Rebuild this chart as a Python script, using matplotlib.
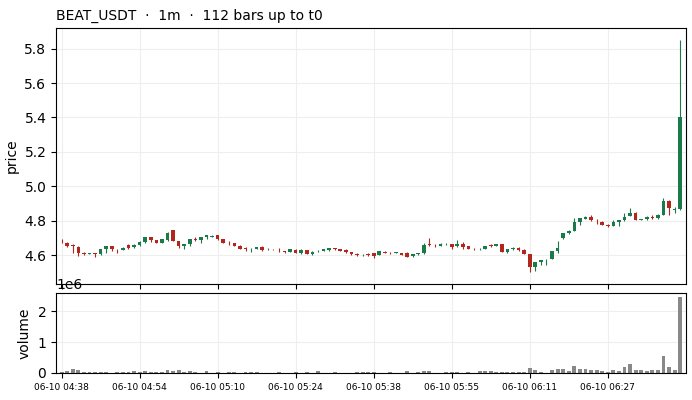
import numpy as np
import matplotlib
matplotlib.use('Agg')
import matplotlib.pyplot as plt

# ---- data (112 one-minute bars) ----
opens = [4.684, 4.673, 4.658, 4.650, 4.612, 4.609, 4.612, 4.606, 4.636, 4.652,
         4.636, 4.631, 4.657, 4.648, 4.658, 4.676, 4.703, 4.688, 4.671, 4.687,
         4.744, 4.683, 4.654, 4.663, 4.693, 4.686, 4.705, 4.708, 4.715, 4.692,
         4.671, 4.668, 4.655, 4.640, 4.635, 4.637, 4.649, 4.634, 4.635, 4.631,
         4.625, 4.619, 4.631, 4.612, 4.629, 4.606, 4.624, 4.625, 4.629, 4.640,
         4.635, 4.631, 4.619, 4.608, 4.599, 4.604, 4.610, 4.602, 4.621, 4.615,
         4.614, 4.612, 4.612, 4.596, 4.604, 4.610, 4.662, 4.661, 4.655, 4.662,
         4.664, 4.652, 4.665, 4.654, 4.636, 4.634, 4.635, 4.659, 4.654, 4.663,
         4.621, 4.638, 4.640, 4.629, 4.606, 4.533, 4.562, 4.575, 4.577, 4.623,
         4.702, 4.729, 4.740, 4.790, 4.811, 4.823, 4.801, 4.794, 4.775, 4.769,
         4.792, 4.802, 4.827, 4.842, 4.806, 4.808, 4.823, 4.813, 4.836, 4.917,
         4.862, 4.871]
highs = [4.692, 4.675, 4.663, 4.652, 4.617, 4.615, 4.615, 4.637, 4.656, 4.654,
         4.638, 4.645, 4.663, 4.667, 4.680, 4.708, 4.705, 4.690, 4.694, 4.736,
         4.745, 4.685, 4.665, 4.694, 4.707, 4.708, 4.717, 4.715, 4.717, 4.694,
         4.680, 4.670, 4.657, 4.648, 4.640, 4.650, 4.651, 4.640, 4.638, 4.640,
         4.627, 4.635, 4.633, 4.633, 4.631, 4.623, 4.629, 4.635, 4.642, 4.642,
         4.637, 4.635, 4.621, 4.610, 4.604, 4.612, 4.613, 4.625, 4.623, 4.617,
         4.617, 4.614, 4.616, 4.608, 4.612, 4.669, 4.702, 4.665, 4.668, 4.673,
         4.666, 4.686, 4.677, 4.656, 4.640, 4.640, 4.656, 4.665, 4.665, 4.665,
         4.637, 4.648, 4.645, 4.633, 4.608, 4.560, 4.573, 4.579, 4.625, 4.683,
         4.729, 4.744, 4.817, 4.815, 4.825, 4.836, 4.808, 4.796, 4.783, 4.804,
         4.804, 4.842, 4.875, 4.852, 4.812, 4.825, 4.836, 4.838, 4.932, 4.919,
         4.879, 5.852]
lows = [4.670, 4.648, 4.610, 4.596, 4.600, 4.604, 4.587, 4.603, 4.610, 4.625,
        4.610, 4.628, 4.634, 4.640, 4.655, 4.673, 4.677, 4.668, 4.669, 4.685,
        4.681, 4.644, 4.635, 4.656, 4.683, 4.671, 4.694, 4.706, 4.690, 4.669,
        4.660, 4.654, 4.636, 4.625, 4.621, 4.635, 4.627, 4.630, 4.631, 4.617,
        4.610, 4.617, 4.611, 4.608, 4.604, 4.602, 4.619, 4.623, 4.627, 4.631,
        4.625, 4.613, 4.602, 4.594, 4.596, 4.596, 4.581, 4.600, 4.611, 4.604,
        4.612, 4.600, 4.587, 4.587, 4.602, 4.608, 4.655, 4.648, 4.653, 4.658,
        4.638, 4.650, 4.638, 4.636, 4.630, 4.630, 4.633, 4.646, 4.652, 4.619,
        4.610, 4.630, 4.627, 4.604, 4.500, 4.510, 4.542, 4.544, 4.575, 4.615,
        4.692, 4.725, 4.738, 4.773, 4.809, 4.800, 4.783, 4.773, 4.765, 4.767,
        4.772, 4.800, 4.825, 4.802, 4.802, 4.806, 4.810, 4.811, 4.834, 4.836,
        4.846, 4.865]
closes = [4.681, 4.655, 4.652, 4.615, 4.609, 4.611, 4.606, 4.635, 4.652, 4.635,
          4.633, 4.642, 4.644, 4.659, 4.676, 4.705, 4.686, 4.671, 4.692, 4.727,
          4.683, 4.654, 4.663, 4.692, 4.690, 4.706, 4.715, 4.713, 4.692, 4.671,
          4.668, 4.656, 4.638, 4.635, 4.638, 4.648, 4.632, 4.636, 4.633, 4.628,
          4.619, 4.633, 4.613, 4.631, 4.608, 4.621, 4.625, 4.633, 4.640, 4.634,
          4.627, 4.617, 4.606, 4.598, 4.601, 4.601, 4.596, 4.623, 4.613, 4.610,
          4.616, 4.602, 4.592, 4.606, 4.610, 4.660, 4.659, 4.658, 4.666, 4.664,
          4.650, 4.665, 4.650, 4.638, 4.634, 4.636, 4.654, 4.654, 4.663, 4.621,
          4.635, 4.641, 4.629, 4.606, 4.533, 4.558, 4.571, 4.577, 4.623, 4.640,
          4.727, 4.740, 4.792, 4.813, 4.823, 4.802, 4.799, 4.775, 4.772, 4.790,
          4.802, 4.823, 4.842, 4.804, 4.808, 4.823, 4.813, 4.836, 4.917, 4.875,
          4.866, 5.400]
# volume in millions
volumes = [0.03, 0.06, 0.13, 0.10, 0.03, 0.03, 0.03, 0.03, 0.03, 0.01,
           0.03, 0.03, 0.03, 0.06, 0.03, 0.06, 0.03, 0.03, 0.03, 0.10,
           0.06, 0.10, 0.03, 0.06, 0.03, 0.01, 0.06, 0.01, 0.03, 0.01,
           0.03, 0.03, 0.01, 0.03, 0.03, 0.03, 0.01, 0.01, 0.01, 0.03,
           0.01, 0.01, 0.03, 0.01, 0.03, 0.01, 0.06, 0.01, 0.01, 0.03,
           0.01, 0.01, 0.01, 0.03, 0.03, 0.03, 0.03, 0.01, 0.01, 0.03,
           0.01, 0.01, 0.06, 0.01, 0.03, 0.06, 0.06, 0.01, 0.01, 0.03,
           0.03, 0.03, 0.01, 0.03, 0.01, 0.06, 0.06, 0.06, 0.03, 0.03,
           0.03, 0.03, 0.03, 0.03, 0.16, 0.10, 0.03, 0.01, 0.10, 0.13,
           0.13, 0.06, 0.22, 0.13, 0.13, 0.10, 0.10, 0.06, 0.03, 0.10,
           0.06, 0.19, 0.29, 0.10, 0.10, 0.06, 0.10, 0.10, 0.54, 0.19,
           0.10, 2.46]
tick_labels = ['06-10 04:38', '06-10 04:54', '06-10 05:10', '06-10 05:24',
               '06-10 05:38', '06-10 05:55', '06-10 06:11', '06-10 06:27']

UP = '#1b7a4a'
DOWN = '#b3261e'

o = np.array(opens)
h = np.array(highs)
l = np.array(lows)
c = np.array(closes)
v = np.array(volumes) * 1e6
x = np.arange(len(o))
colors = np.where(c >= o, UP, DOWN)

fig = plt.figure(figsize=(6.92, 4.0), dpi=100)
ax = fig.add_axes([0.081, 0.29, 0.910, 0.64])
axv = fig.add_axes([0.081, 0.0675, 0.910, 0.2], sharex=ax)

# candles
ax.vlines(x, l, h, colors=colors, linewidth=0.8, zorder=2)
body = np.maximum(np.abs(c - o), 0.002)
ax.bar(x, body, bottom=np.minimum(o, c), width=0.65, color=colors, zorder=3)
ax.grid(True, color='#eeeeee', linewidth=0.8)
ax.set_axisbelow(True)
ax.set_ylabel('price')
ax.set_title('BEAT_USDT  ·  1m  ·  112 bars up to t0', loc='left', fontsize=10)
plt.setp(ax.get_xticklabels(), visible=False)

# volume
axv.bar(x, v, width=0.7, color='#888888')
axv.grid(True, color='#eeeeee', linewidth=0.8)
axv.set_axisbelow(True)
axv.set_ylabel('volume')
axv.set_yticks([0, 1e6, 2e6])
axv.set_xlim(-1, len(o))
ticks = np.arange(0, len(o), 14)
axv.set_xticks(ticks)
axv.set_xticklabels(tick_labels[:len(ticks)], fontsize=6.5)

fig.savefig('out.png', dpi=100)
